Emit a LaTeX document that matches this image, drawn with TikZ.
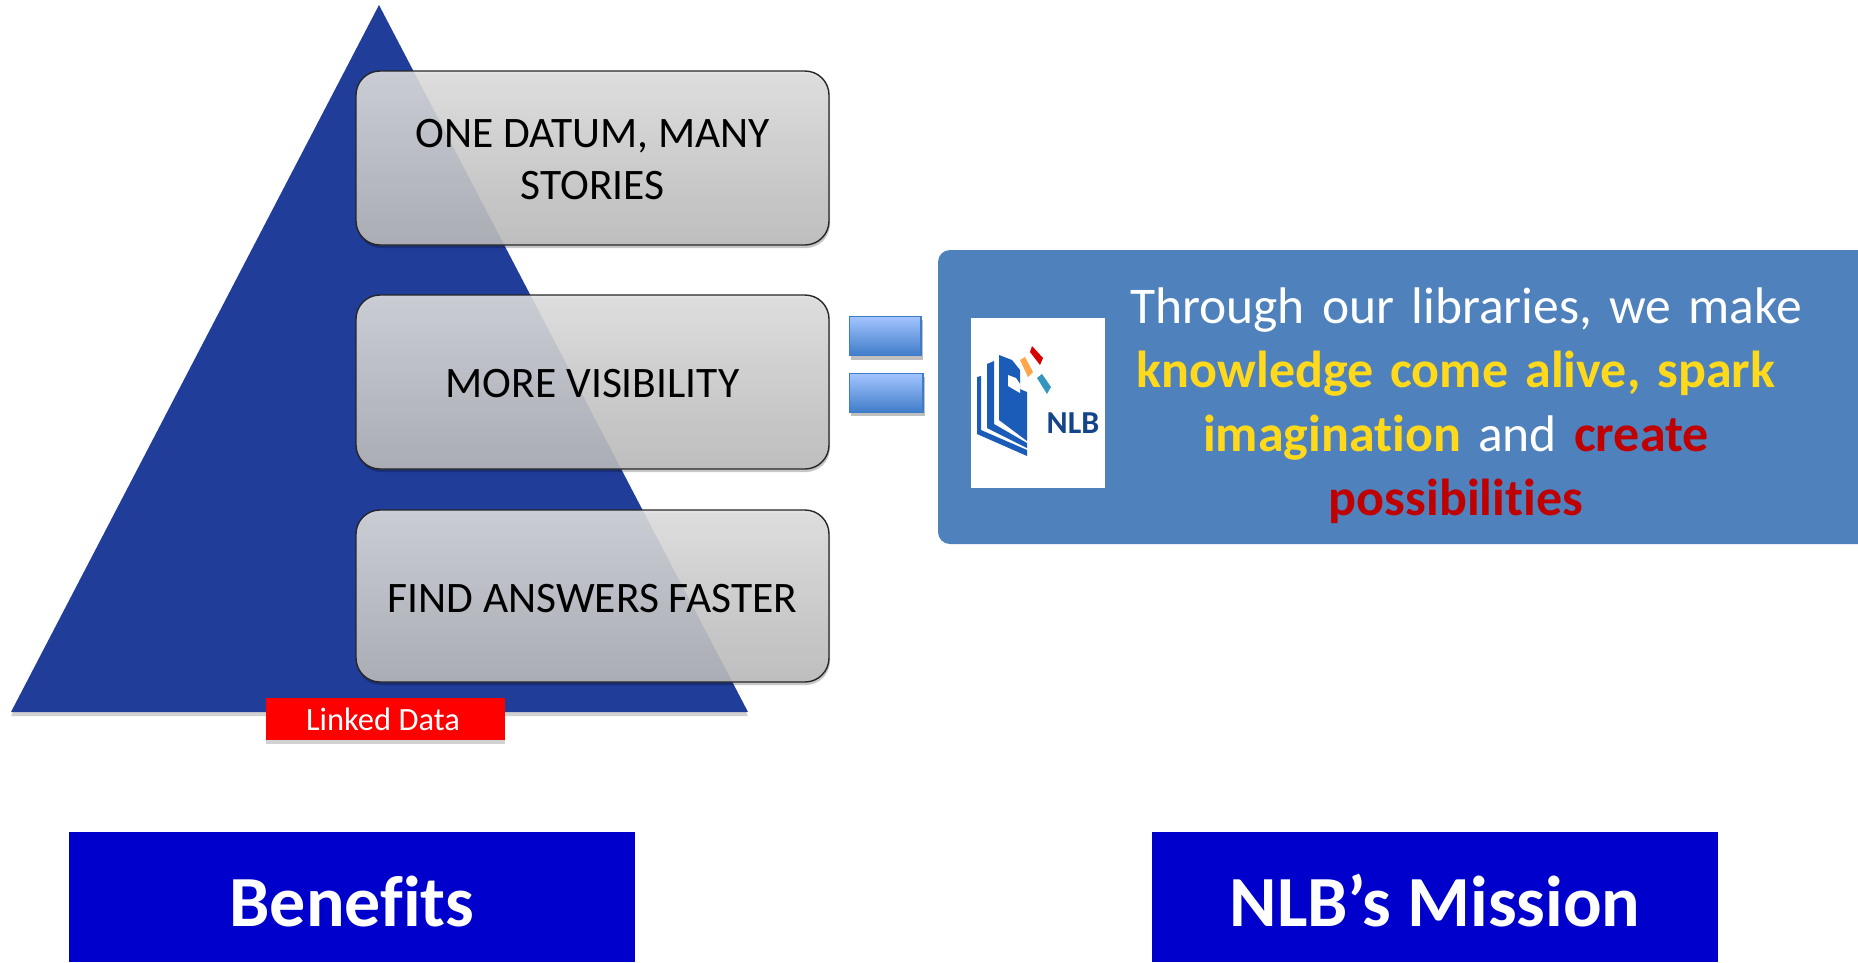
\documentclass[tikz,border=0pt]{standalone}
\usepackage{fontspec}
\setmainfont[Ligatures=NoCommon]{Carlito}
\definecolor{tri}{HTML}{1F3D99}
\definecolor{panel}{HTML}{4F81BD}
\definecolor{ybl}{HTML}{FFD91A}
\definecolor{rdl}{HTML}{C00000}
\definecolor{hdr}{HTML}{0000CC}
\definecolor{lg}{HTML}{1B5CB8}
\definecolor{eqtop}{HTML}{A3C4FF}
\definecolor{eqbot}{HTML}{3F7CC8}
\tikzset{
  x=1pt,y=-1pt,
  benefit/.style={rectangle,rounded corners=24pt,draw=black!85,line width=1.4pt,minimum width=473pt,
    align=center,top color=black!12,bottom color=black!26,fill opacity=.89,text opacity=1,
    font=\fontsize{43.5}{52}\selectfont,text=black,inner sep=0pt},
  eqbar/.style={rectangle,draw=eqbot,line width=1.2pt,top color=eqtop,bottom color=eqbot,minimum height=39pt,inner sep=0pt},
  header/.style={rectangle,fill=hdr,text=white,minimum width=566pt,minimum height=130pt,inner sep=0pt,
    font=\bfseries\fontsize{72}{76}\selectfont},
}
\begin{document}
\begin{tikzpicture}
\useasboundingbox (0,0) rectangle (1858,962);
% pyramid
\fill[black,opacity=.18] (379,9) -- (11,716) -- (748,716) -- cycle;
\path[fill=tri] (379,5) -- (11,712) -- (748,712) -- cycle;
% benefit boxes
\fill[black,opacity=.22,rounded corners=24pt] (357,74) rectangle (830,248);
\node[benefit,minimum height=174pt] (b1) at (592.5,158) {\rule{0pt}{31pt}ONE DATUM, MANY\\STORIES};
\fill[black,opacity=.22,rounded corners=24pt] (357,298) rectangle (830,472);
\node[benefit,minimum height=174pt] (b2) at (592.5,382) {\rule{0pt}{30.5pt}MORE VISIBILITY};
\fill[black,opacity=.22,rounded corners=24pt] (357,513) rectangle (830,685);
\node[benefit,minimum height=172pt] (b3) at (592.5,596) {\rule{0pt}{33pt}FIND ANSWERS FASTER};
% linked data
\fill[black,opacity=.18] (266,702) rectangle (505,744);
\node[rectangle,fill=red,text=white,minimum width=239pt,minimum height=42pt,inner sep=0pt,
  font=\fontsize{32.5}{34}\selectfont] (ld) at (385.5,719) {Linked Data\kern5pt};
% equals
\fill[black,opacity=.25] (851,320) rectangle (923,360);
\fill[black,opacity=.25] (851,377) rectangle (925,416);
\node[eqbar,minimum width=72pt] (eq1) at (885,336) {};
\node[eqbar,minimum width=74pt] (eq2) at (886,393) {};
\fill[white] (845,310) rectangle (849.4,420);
% panel
\path[fill=panel,rounded corners=12pt] (938,250) rectangle (1880,544);
\node[rectangle,fill=white,minimum width=134pt,minimum height=170pt,inner sep=0pt] (logo) at (1038,403) {};
% logo drawing
\fill[lg] (977,377) -- (981,376) -- (981,430) -- (1027,450) -- (1027,456) -- (977,434) -- cycle;
\fill[lg] (987,364) -- (994,361) -- (994,424) -- (1027,443) -- (1027,448) -- (987,428) -- cycle;
\fill[lg] (999,355) -- (1012,360) -- (1020,370) -- (1020,389) -- (1027,392) -- (1027,441) -- (999,420) -- cycle;
\fill[white] (1008,375) -- (1016,378) -- (1020,384) -- (1020,393) -- (1008,386) -- cycle;
\fill[red!85!black] (1032,346) -- (1043,358) -- (1040,365) -- (1030,352) -- cycle;
\fill[orange!70!white] (1020,360) -- (1025,357) -- (1033,372) -- (1028,377) -- cycle;
\fill[cyan!75!black] (1037,378) -- (1042,374) -- (1051,387) -- (1047,394) -- cycle;
\node[font=\bfseries\fontsize{32}{32}\selectfont,text=lg!75!black,inner sep=0pt] (nlb) at (1073,423) {NLB};
% panel text
\node[text=white,align=center,inner sep=0pt,font=\fontsize{51.5}{64}\selectfont,text width=800pt] (mission) at (1456,406)
 {\hspace*{20pt}Through our libraries, we make\\
  \textcolor{ybl}{\bfseries\fontsize{52}{64}\selectfont knowledge come alive, spark}\\
  \textcolor{ybl}{\bfseries\fontsize{52}{64}\selectfont imagination} and \textcolor{rdl}{\bfseries\fontsize{52}{64}\selectfont create}\\
  \textcolor{rdl}{\bfseries\fontsize{52}{64}\selectfont possibilities}};
% headers
\node[header] (h1) at (352,897) {\rule{0pt}{59pt}Benefits};
\node[header] (h2) at (1435,897) {\rule{0pt}{59pt}NLB’s Mission};
\end{tikzpicture}
\end{document}
